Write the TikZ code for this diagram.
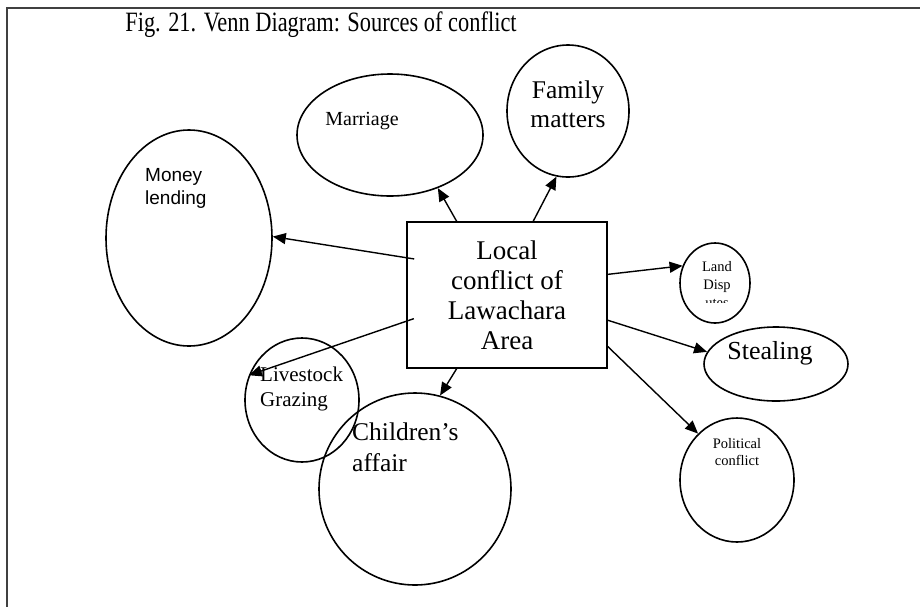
\documentclass[tikz,border=0pt]{standalone}
\usepackage{fontspec}
\setmainfont{Liberation Serif}
\newfontfamily\arialfont{Liberation Sans}
\usetikzlibrary{arrows.meta,calc,shapes.geometric}
\begin{document}
\begin{tikzpicture}[x=1pt,y=-1pt,
  bubble/.style={draw,ellipse,line width=1.6pt,inner sep=0pt},
  hub/.style={draw,rectangle,line width=1.4pt,minimum width=200pt,minimum height=146pt,inner sep=0pt,align=center},
  link/.style={line width=1.4pt,-{Triangle[length=13pt,width=11pt]}},
  lbl/.style={inner sep=0pt,align=center},
  lbll/.style={inner sep=0pt,align=left,anchor=north west}]
\useasboundingbox (0,0) rectangle (920,606);
% frame
\draw[line width=2pt,black!75] (7,612) -- (7,8) -- (926,8);
% title
\node[lbl,anchor=base] (title) at (321,31) {\scalebox{.8}[1]{\fontsize{28}{30}\selectfont Fig. 21. Venn Diagram: Sources of conflict}};
% central box
\node[hub,font=\fontsize{27}{30}\selectfont] (box) at (507,295) {Local\\conflict of\\Lawachara\\Area};
% sources
\node[bubble,minimum width=186pt,minimum height=122pt] (marriage) at (390,135) {};
\node[lbl,font=\fontsize{20}{24}\selectfont] (marriageT) at (362,121) {Marriage};
\node[bubble,minimum width=122pt,minimum height=132pt] (family) at (568,111) {};
\node[lbl,font=\fontsize{25.5}{29}\selectfont] (familyT) at (568,104) {Family\\matters};
\node[bubble,minimum width=166pt,minimum height=216pt] (money) at (189,238) {};
\node[lbll,font=\arialfont\fontsize{19}{23}\selectfont] (moneyT) at (145,168) {Money\\lending};
\node[bubble,minimum width=70pt,minimum height=80pt] (land) at (715,283) {};
\begin{scope}
  \clip (680,250) rectangle (750,302);
  \node[lbl,font=\fontsize{14.5}{18}\selectfont] (landT) at (717,285) {Land\\Disp\\utes};
\end{scope}
\node[bubble,minimum width=144pt,minimum height=74pt] (stealing) at (776,364) {};
\node[lbl,font=\fontsize{26}{28}\selectfont] (stealingT) at (770,353) {Stealing};
\node[bubble,minimum width=114pt,minimum height=124pt] (political) at (737,480) {};
\node[lbl,font=\fontsize{14.5}{17}\selectfont] (politicalT) at (737,452) {Political\\conflict};
\node[bubble,minimum width=114pt,minimum height=124pt] (livestock) at (302,400) {};
\node[lbll,font=\fontsize{21}{25}\selectfont] (livestockT) at (260,367) {Livestock\\Grazing};
\node[bubble,minimum width=192pt,minimum height=192pt] (children) at (415,489) {};
\node[lbll,font=\fontsize{25.5}{31}\selectfont] (childrenT) at (352,423) {Children’s\\affair};
% connectors
\draw[link] ($(box.north west)!.25!(box.north east)$) -- (marriage.-48);
\draw[link] ($(box.north west)!.63!(box.north east)$) -- (family.-100);
\draw[link,shorten <=-8pt] ($(box.north west)!.247!(box.south west)$) -- (money.1);
\draw[link,shorten <=-8pt] ($(box.north west)!.678!(box.south west)$) -- (livestock.155.6);
\draw[link] ($(box.south west)!.25!(box.south east)$) -- (children.75);
\draw[link] ($(box.north east)!.36!(box.south east)$) -- (land.152);
\draw[link] ($(box.north east)!.671!(box.south east)$) -- (stealing.170);
\draw[link] ($(box.north east)!.849!(box.south east)$) -- (political.130);
\end{tikzpicture}
\end{document}
